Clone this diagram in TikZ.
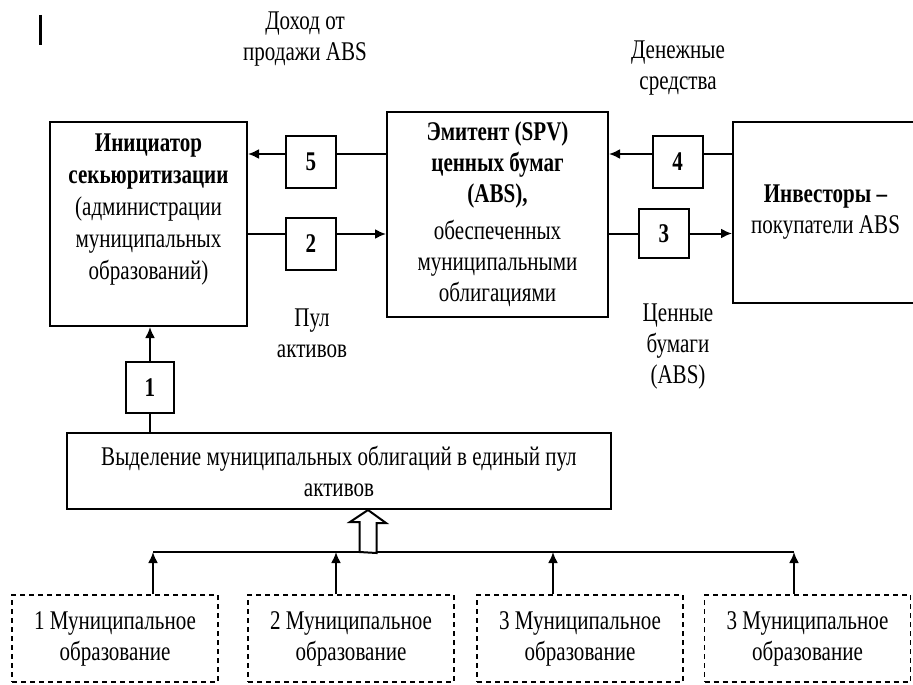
\documentclass[tikz,border=0pt]{standalone}
\usepackage{fontspec}
\setmainfont{Liberation Serif}[FakeStretch=0.78]
\usetikzlibrary{arrows.meta,positioning}
\tikzset{
  block/.style   = {draw, line width=1pt, rectangle, align=center, inner sep=2pt},
  numbox/.style  = {draw, line width=1pt, rectangle, minimum width=25pt, minimum height=26pt, inner sep=0pt, font=\fontsize{13.5}{15}\selectfont\bfseries},
  munibox/.style = {draw, dash pattern=on 2.5pt off 2pt, line width=0.8pt, rectangle, minimum width=103pt, minimum height=43.5pt, align=center},
  caption/.style = {align=center}
}

\begin{document}
\begin{tikzpicture}[x=0.5pt, y=-0.5pt, line width=1pt, >={Latex[length=5.5pt,width=5pt]}, font=\fontsize{13.5}{15.5}\selectfont]
\clip (0,0) rectangle (913,684);

% Top blocks
\node[block, minimum width=98.5pt, minimum height=102pt] (init) at (148.5,224) {};
\node[caption, below=2.5pt of init.north, font=\fontsize{13.5}{16}\selectfont] (inittext) {\textbf{Инициатор}\\\textbf{секьюритизации}\\(администрации\\муниципальных\\образований)};
\node[block, minimum width=110.5pt, minimum height=102.5pt] (emit) at (497.5,214.5) {\textbf{Эмитент (SPV)}\\\textbf{ценных бумаг}\\\textbf{(ABS),}\\[3pt]обеспеченных\\муниципальными\\облигациями};
\node[block, minimum width=92.5pt, minimum height=90.5pt] (inv) at (825.5,212.5) {\textbf{Инвесторы –}\\покупатели ABS};

% Numbered steps
\node[numbox] (n5) at (311,162) {5};
\node[numbox] (n2) at (311,243.5) {2};
\node[numbox] (n4) at (677.5,162) {4};
\node[numbox, minimum height=24.5pt] (n3) at (664,233.5) {3};
\node[numbox, minimum width=24pt, minimum height=25.5pt] (n1) at (150,387.5) {1};

% Pool and municipalities
\node[block, minimum width=272pt, minimum height=38pt] (pool) at (339,471) {Выделение муниципальных облигаций в единый пул\\активов};
\node[munibox] (m1) at (115,638.5) {1 Муниципальное\\образование};
\node[munibox] (m2) at (351,638.5) {2 Муниципальное\\образование};
\node[munibox] (m3) at (580,638.5) {3 Муниципальное\\образование};
\node[munibox] (m4) at (807.5,638.5) {3 Муниципальное\\образование};

% Captions
\node[caption] (income) at (305,39) {Доход от\\продажи ABS};
\node[caption] (cash) at (678,68) {Денежные\\средства};
\node[caption] (pooltxt) at (312,333) {Пул\\активов};
\node[caption] (secur) at (678,347) {Ценные\\бумаги\\(ABS)};

\draw[line width=1.5pt] (40,15) -- (40,45);

% Connections
\coordinate (y5) at (0,154);
\coordinate (y2) at (0,234);
\draw (emit.west |- y5) -- (n5.east |- y5);
\draw[->] (n5.west |- y5) -- (init.east |- y5);
\draw (init.east |- y2) -- (n2.west |- y2);
\draw[->] (n2.east |- y2) -- (emit.west |- y2);
\draw (inv.west |- y5) -- (n4.east |- y5);
\draw[->] (n4.west |- y5) -- (emit.east |- y5);
\draw (emit.east |- n3) -- (n3.west);
\draw[->] (n3.east) -- (inv.west |- n3);
\draw (pool.north -| n1) -- (n1.south);
\draw[->] (n1.north) -- (init.south -| n1);

% Bus from municipalities
\coordinate (bus1) at (153,552);
\coordinate (bus2) at (336,552);
\coordinate (bus3) at (553,552);
\coordinate (bus4) at (794,552);
\coordinate (hollow) at (368,552);
\draw (bus1) -- (bus4);
\foreach \i in {1,...,4}
  \draw[->] (bus\i |- m\i.north) -- (bus\i);
\draw[fill=white] (hollow) ++(-8.5,0) -- ++(0,-30) -- ++(-9.5,0) -- (hollow |- pool.south) -- ++(18,13) -- ++(-9.5,0) -- ++(0,30) -- cycle;

\end{tikzpicture}
\end{document}
